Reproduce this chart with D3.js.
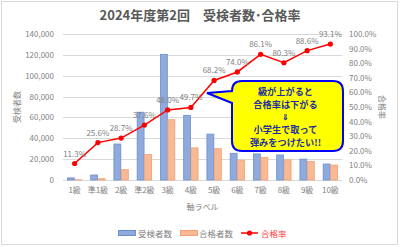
<!DOCTYPE html>
<html>
<head>
<meta charset="utf-8">
<script src="https://cdn.jsdelivr.net/npm/d3@7"></script>
<style>
  body { margin: 0; background: #fff; }
  text { font-family: "Noto Sans CJK JP", "Noto Sans", sans-serif; }
</style>
</head>
<body>
<svg id="chart"></svg>
<script>
(function () {
    const categories = ['1級', '準1級', '2級', '準2級', '3級', '4級', '5級', '6級', '7級', '8級', '9級', '10級'];
    const applicants = [2000, 4800, 34500, 65000, 120500, 62000, 44000, 25600, 25000, 24000, 20000, 15300];
    const passers = [230, 1230, 9900, 24400, 57800, 30800, 30000, 19000, 21500, 19300, 17700, 14300];
    const passRate = [11.3, 25.6, 28.7, 37.6, 48.0, 49.7, 68.2, 74.0, 86.1, 80.3, 88.6, 93.1];
    const leftTicks = [0, 20000, 40000, 60000, 80000, 100000, 120000, 140000];
    const rightTicks = [0, 10, 20, 30, 40, 50, 60, 70, 80, 90, 100];
    const calloutLines = ['級が上がると', '合格率は下がる', '⇓', '小学生で取って', '弾みをつけたい!!'];

    const width = 400;
    const height = 247;
    const margin = { top: 34, right: 58, bottom: 67, left: 63 };
    const plotW = width - margin.left - margin.right;
    const plotH = height - margin.top - margin.bottom;

    const svg = d3.select('#chart')
        .attr('width', width)
        .attr('height', height);

    svg.append('rect')
        .attr('x', 1.5).attr('y', 1.5)
        .attr('width', 396).attr('height', 243)
        .attr('fill', '#fff')
        .attr('stroke', '#d9d9d9');

    svg.append('text')
        .attr('x', 200).attr('y', 20)
        .attr('text-anchor', 'middle')
        .attr('font-size', 13)
        .attr('font-weight', 'bold')
        .attr('fill', '#595959')
        .text('2024年度第2回　受検者数･合格率');

    const g = svg.append('g').attr('transform', `translate(${margin.left},${margin.top})`);

    const x = d3.scaleBand().domain(categories).range([0, plotW]);
    const x1 = d3.scaleBand().domain(['a', 'p']).range([x.bandwidth() * 0.19, x.bandwidth() * 0.81]).paddingInner(0.08);
    const yL = d3.scaleLinear().domain([0, 140000]).range([plotH, 0]);
    const yR = d3.scaleLinear().domain([0, 100]).range([plotH, 0]);

    // gridlines
    g.selectAll('.grid')
        .data(leftTicks)
        .enter().append('line')
        .attr('x1', 0).attr('x2', plotW)
        .attr('y1', d => Math.round(yL(d)) + 0.5)
        .attr('y2', d => Math.round(yL(d)) + 0.5)
        .attr('stroke', '#d9d9d9');

    // left axis
    const leftAxis = g.append('g')
        .call(d3.axisLeft(yL).tickValues(leftTicks).tickSize(0).tickPadding(9).tickFormat(d3.format(',')));
    leftAxis.select('.domain').remove();
    leftAxis.selectAll('text').attr('font-size', 8).attr('fill', '#7f7f7f');

    // right axis
    const rightAxis = g.append('g')
        .attr('transform', `translate(${plotW},0)`)
        .call(d3.axisRight(yR).tickValues(rightTicks).tickSize(0).tickPadding(7).tickFormat(d => d.toFixed(1) + '%'));
    rightAxis.select('.domain').remove();
    rightAxis.selectAll('text').attr('font-size', 8).attr('fill', '#7f7f7f');

    // bottom axis
    const bottomAxis = g.append('g')
        .attr('transform', `translate(0,${plotH})`)
        .call(d3.axisBottom(x).tickSize(0).tickPadding(7));
    bottomAxis.select('.domain').remove();
    bottomAxis.selectAll('text').attr('font-size', 8).attr('fill', '#7f7f7f');

    // axis titles
    svg.append('text')
        .attr('transform', 'translate(20,107) rotate(-90)')
        .attr('text-anchor', 'middle')
        .attr('font-size', 8).attr('fill', '#7f7f7f')
        .text('受検者数');
    svg.append('text')
        .attr('transform', 'translate(379,107) rotate(90)')
        .attr('text-anchor', 'middle')
        .attr('font-size', 8).attr('fill', '#7f7f7f')
        .text('合格率');
    svg.append('text')
        .attr('x', margin.left + plotW / 2).attr('y', 210)
        .attr('text-anchor', 'middle')
        .attr('font-size', 8).attr('fill', '#7f7f7f')
        .text('軸ラベル');

    // bars
    const bars = g.append('g');
    bars.selectAll('.a')
        .data(applicants)
        .enter().append('rect')
        .attr('x', (d, i) => x(categories[i]) + x1('a'))
        .attr('y', d => yL(d))
        .attr('width', x1.bandwidth())
        .attr('height', d => plotH - yL(d))
        .attr('fill', '#8faadc')
        .attr('stroke', '#6b8fd0')
        .attr('stroke-width', 0.8);
    bars.selectAll('.p')
        .data(passers)
        .enter().append('rect')
        .attr('x', (d, i) => x(categories[i]) + x1('p'))
        .attr('y', d => yL(d))
        .attr('width', x1.bandwidth())
        .attr('height', d => plotH - yL(d))
        .attr('fill', '#f8b996')
        .attr('stroke', '#f4a070')
        .attr('stroke-width', 0.8);

    // rate line
    const cx = (d, i) => x(categories[i]) + x.bandwidth() / 2;
    const line = d3.line()
        .x(cx)
        .y(d => yR(d));

    g.append('path')
        .datum(passRate)
        .attr('d', line)
        .attr('fill', 'none')
        .attr('stroke', '#ff0000')
        .attr('stroke-width', 1.5);

    g.selectAll('.pt')
        .data(passRate)
        .enter().append('circle')
        .attr('cx', cx)
        .attr('cy', d => yR(d))
        .attr('r', 2.6)
        .attr('fill', '#ff0000');

    g.selectAll('.lbl')
        .data(passRate)
        .enter().append('text')
        .attr('x', cx)
        .attr('y', d => yR(d) - 7)
        .attr('text-anchor', 'middle')
        .attr('font-size', 8)
        .attr('fill', '#7f7f7f')
        .text(d => d.toFixed(1) + '%');

    // callout
    const cl = 232, ct = 81, cw = 111, ch = 70, r = 10;
    const tipX = 207, tipY = 93;
    const path = d3.path();
    path.moveTo(cl + r, ct);
    path.lineTo(cl + cw - r, ct);
    path.quadraticCurveTo(cl + cw, ct, cl + cw, ct + r);
    path.lineTo(cl + cw, ct + ch - r);
    path.quadraticCurveTo(cl + cw, ct + ch, cl + cw - r, ct + ch);
    path.lineTo(cl + r, ct + ch);
    path.quadraticCurveTo(cl, ct + ch, cl, ct + ch - r);
    path.lineTo(cl, ct + 22);
    path.lineTo(tipX, tipY);
    path.lineTo(cl, ct + 10);
    path.lineTo(cl, ct + r);
    path.quadraticCurveTo(cl, ct, cl + r, ct);
    path.closePath();
    svg.append('path')
        .attr('d', path.toString())
        .attr('fill', '#ffff00')
        .attr('stroke', '#0000ff')
        .attr('stroke-width', 2);

    const lineY = [94.5, 108, 120, 132.5, 146];
    svg.selectAll('.cl')
        .data(calloutLines)
        .enter().append('text')
        .attr('x', cl + cw / 2 - 2)
        .attr('y', (d, i) => lineY[i])
        .attr('text-anchor', 'middle')
        .attr('font-size', (d, i) => i === 2 ? 7.5 : 9.2)
        .attr('font-weight', 'bold')
        .attr('fill', '#1f2f9f')
        .text(d => d);

    // legend
    const lg = svg.append('g').attr('font-size', 8.5);
    lg.append('rect').attr('x', 118.5).attr('y', 230.5).attr('width', 17).attr('height', 5)
        .attr('fill', '#8faadc').attr('stroke', '#6b8fd0');
    lg.append('text').attr('x', 138).attr('y', 236.5).attr('fill', '#7f7f7f').text('受検者数');
    lg.append('rect').attr('x', 180.5).attr('y', 230.5).attr('width', 17).attr('height', 5)
        .attr('fill', '#f8b996').attr('stroke', '#f4a070');
    lg.append('text').attr('x', 199).attr('y', 236.5).attr('fill', '#7f7f7f').text('合格者数');
    lg.append('line').attr('x1', 241).attr('x2', 258).attr('y1', 233).attr('y2', 233)
        .attr('stroke', '#ff0000').attr('stroke-width', 1.5);
    lg.append('circle').attr('cx', 249.5).attr('cy', 233).attr('r', 2.6).attr('fill', '#ff0000');
    lg.append('text').attr('x', 261).attr('y', 236.5).attr('fill', '#ff4040').text('合格率');
})();
</script>
</body>
</html>
